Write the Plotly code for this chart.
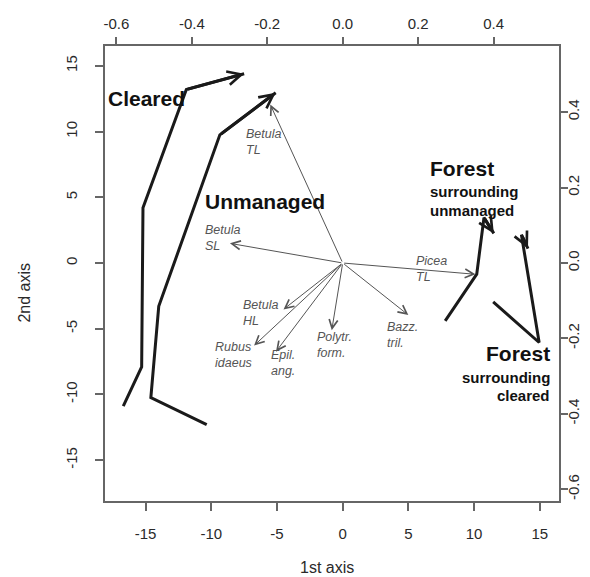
import plotly.graph_objects as go

# ---------------- data ----------------
# site-group trajectories (1st / 2nd axis scores)
cleared_x = [-16.7, -15.3, -15.2, -11.9, -7.5]
cleared_y = [-10.9, -7.9, 4.2, 13.2, 14.4]
unmanaged_x = [-10.35, -14.6, -14.0, -9.35, -5.1]
unmanaged_y = [-12.3, -10.25, -3.3, 9.75, 12.95]
forest_unm_x = [7.8, 10.2, 10.75, 11.5]
forest_unm_y = [-4.4, -0.85, 3.45, 2.25]
forest_clr_x = [11.45, 14.95, 13.6, 14.1]
forest_clr_y = [-2.95, -6.05, 2.15, 1.1]

# species vectors (secondary axes scale)
species = ["Betula<br>TL", "Betula<br>SL", "Picea<br>TL", "Betula<br>HL",
           "Rubus<br>idaeus", "Epil.<br>ang.", "Polytr.<br>form.", "Bazz.<br>tril."]
species_x = [-0.192, -0.299, 0.352, -0.157, -0.235, -0.177, -0.029, 0.174]
species_y = [0.420, 0.052, -0.030, -0.123, -0.219, -0.235, -0.178, -0.138]

# tick labels
x_ticks = [-15, -10, -5, 0, 5, 10, 15]
y_ticks = [-15, -10, -5, 0, 5, 10, 15]
sec_ticks = [-0.6, -0.4, -0.2, 0.0, 0.2, 0.4]
sec_ticktext = ["-0.6", "-0.4", "-0.2", "0.0", "0.2", "0.4"]

# ---------------- layout helpers ----------------
SCALE = 28.7  # primary units per secondary unit
XR = [-18.09, 16.46]
YR = [-18.11, 16.51]
FONT = "Liberation Sans, Arial, sans-serif"
LINE_C = "#1a1a1a"
SP_C = "#555555"
FRAME_C = "#666666"
TICK_C = "#2a2a2a"

# label pixel offsets from arrow tips (dx, dy) ; text anchored left/middle
label_offsets = [(-26, 37), (-27, -5), (-61, -5), (-43, 4),
                 (-41, 9), (-7, 11), (-17, 15), (-23, 20)]

fig = go.Figure()

trajs = [(cleared_x, cleared_y), (unmanaged_x, unmanaged_y),
         (forest_unm_x, forest_unm_y), (forest_clr_x, forest_clr_y)]
for tx, ty in trajs:
    fig.add_trace(go.Scatter(x=tx, y=ty, mode="lines",
                             line=dict(color=LINE_C, width=3),
                             hoverinfo="skip", showlegend=False))
    fig.add_annotation(x=tx[-1], y=ty[-1], ax=tx[-2], ay=ty[-2],
                       xref="x", yref="y", axref="x", ayref="y",
                       text="", showarrow=True, arrowhead=5,
                       arrowwidth=3, arrowsize=0.9, arrowcolor=LINE_C,
                       standoff=0)

# invisible trace to activate secondary axes
fig.add_trace(go.Scatter(x=species_x, y=species_y, xaxis="x2", yaxis="y2",
                         mode="markers", marker=dict(opacity=0),
                         hoverinfo="skip", showlegend=False))

for name, sx, sy, (dx, dy) in zip(species, species_x, species_y, label_offsets):
    fig.add_annotation(x=sx, y=sy, ax=0, ay=0, xref="x2", yref="y2",
                       axref="x2", ayref="y2", text="", showarrow=True,
                       arrowhead=5, arrowwidth=1, arrowsize=1.7,
                       arrowcolor=SP_C, standoff=0)
    fig.add_annotation(x=sx, y=sy, xref="x2", yref="y2", text=name,
                       showarrow=False, xanchor="left", yanchor="middle",
                       align="left", xshift=dx, yshift=-dy,
                       font=dict(family=FONT, size=12.5, color=SP_C,
                                 style="italic"))

# group labels
big = [
    ("<b>Cleared</b>", -18.0, 12.53, "left", 21),
    ("<b>Unmanaged</b>", -10.65, 4.67, "left", 21),
    ("<b>Forest</b>", 6.51, 7.21, "left", 21),
    ("<b>surrounding</b>", 6.51, 5.43, "left", 15),
    ("<b>unmanaged</b>", 6.51, 3.98, "left", 15),
    ("<b>Forest</b>", 15.95, -6.87, "right", 21),
    ("<b>surrounding</b>", 15.95, -8.70, "right", 15),
    ("<b>cleared</b>", 15.95, -10.12, "right", 15),
]
for txt, bx, by, anc, fs in big:
    fig.add_annotation(x=bx, y=by, xref="x", yref="y", text=txt,
                       showarrow=False, xanchor=anc, yanchor="middle",
                       font=dict(family=FONT, size=fs, color="#111111"))

# axis titles
fig.add_annotation(x=0.49, y=0, xref="paper", yref="paper", yshift=-66,
                   text="1st axis", showarrow=False, yanchor="middle",
                   font=dict(family=FONT, size=16, color=TICK_C))
fig.add_annotation(x=0, y=0.458, xref="paper", yref="paper", xshift=-80,
                   text="2nd axis", showarrow=False, textangle=-90,
                   xanchor="center", yanchor="middle",
                   font=dict(family=FONT, size=16, color=TICK_C))

tickfont = dict(family=FONT, size=15, color=TICK_C)
common = dict(showgrid=False, zeroline=False, ticks="outside", ticklen=8,
              tickwidth=1.5, tickcolor=FRAME_C, tickfont=tickfont,
              automargin=False)

fig.update_layout(
    width=582, height=569,
    margin=dict(l=97, r=31, t=38, b=76),
    paper_bgcolor="white", plot_bgcolor="white",
    showlegend=False,
    xaxis=dict(range=XR, tickvals=x_ticks,
               ticktext=[str(v) for v in x_ticks],
               showline=True, mirror=True, linecolor=FRAME_C, linewidth=2,
               ticklabelstandoff=10, **common),
    yaxis=dict(range=YR, tickvals=y_ticks,
               ticktext=[str(v) for v in y_ticks], tickangle=-90,
               showline=True, mirror=True, linecolor=FRAME_C, linewidth=2,
               ticklabelstandoff=12, **common),
    xaxis2=dict(range=[XR[0] / SCALE, XR[1] / SCALE], overlaying="x",
                side="top", anchor="y", tickvals=sec_ticks,
                ticktext=sec_ticktext, showline=False,
                ticklabelstandoff=2, **common),
    yaxis2=dict(range=[YR[0] / SCALE, YR[1] / SCALE], overlaying="y",
                side="right", anchor="x", tickvals=sec_ticks,
                ticktext=sec_ticktext, tickangle=-90, showline=False,
                ticklabelstandoff=-7, **common),
)

fig.write_html("out.html")
